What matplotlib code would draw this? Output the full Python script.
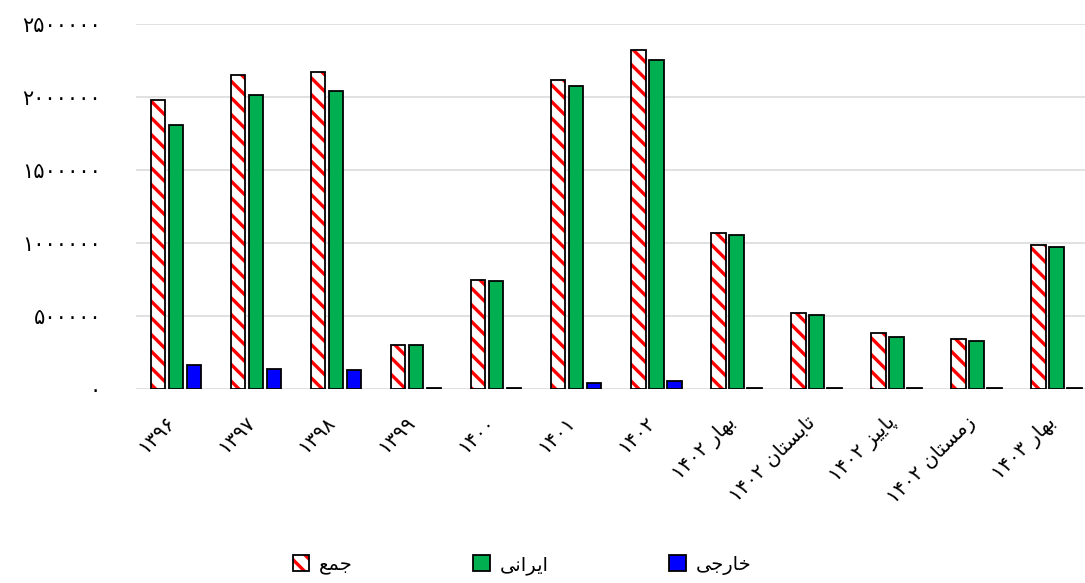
import matplotlib
matplotlib.use("Agg")
import matplotlib.pyplot as plt
from matplotlib.patches import Patch
from matplotlib.legend_handler import HandlerTuple
from matplotlib.ticker import FuncFormatter
import numpy as np

# periods, logical (RTL) order
periods = ["۱۳۹۶", "۱۳۹۷", "۱۳۹۸", "۱۳۹۹", "۱۴۰۰", "۱۴۰۱", "۱۴۰۲",
           "بهار ۱۴۰۲", "تابستان ۱۴۰۲", "پاییز ۱۴۰۲", "زمستان ۱۴۰۲", "بهار ۱۴۰۳"]
total = [1978000, 2155000, 2172000, 304000, 744000, 2117000, 2323000,
         1071000, 521000, 384000, 345000, 988000]
iranian = [1811000, 2017000, 2045000, 300000, 742000, 2076000, 2254000,
           1057000, 507000, 356000, 331000, 975000]
foreign = [161000, 134000, 132000, 5000, 5000, 43000, 57000,
           6000, 5000, 5000, 5000, 5000]
series_names = ["جمع", "ایرانی", "خارجی"]
yticks = [0, 500000, 1000000, 1500000, 2000000, 2500000]

# Arabic presentation forms: isolated, final, initial, medial
FORMS = {
    "ا": ("\uFE8D", "\uFE8E", None, None),
    "ب": ("\uFE8F", "\uFE90", "\uFE91", "\uFE92"),
    "پ": ("\uFB56", "\uFB57", "\uFB58", "\uFB59"),
    "ت": ("\uFE95", "\uFE96", "\uFE97", "\uFE98"),
    "ج": ("\uFE9D", "\uFE9E", "\uFE9F", "\uFEA0"),
    "خ": ("\uFEA5", "\uFEA6", "\uFEA7", "\uFEA8"),
    "ر": ("\uFEAD", "\uFEAE", None, None),
    "ز": ("\uFEAF", "\uFEB0", None, None),
    "س": ("\uFEB1", "\uFEB2", "\uFEB3", "\uFEB4"),
    "ع": ("\uFEC9", "\uFECA", "\uFECB", "\uFECC"),
    "م": ("\uFEE1", "\uFEE2", "\uFEE3", "\uFEE4"),
    "ن": ("\uFEE5", "\uFEE6", "\uFEE7", "\uFEE8"),
    "ه": ("\uFEE9", "\uFEEA", "\uFEEB", "\uFEEC"),
    "ی": ("\uFBFC", "\uFBFD", "\uFBFE", "\uFBFF"),
}


def shape_word(word):
    if word[0] not in FORMS:
        return word
    out = []
    for i, ch in enumerate(word):
        iso, fin, ini, med = FORMS[ch]
        prev = i > 0 and FORMS[word[i - 1]][2] is not None
        nxt = i < len(word) - 1 and ini is not None
        if prev and nxt:
            out.append(med)
        elif prev:
            out.append(fin)
        elif nxt:
            out.append(ini)
        else:
            out.append(iso)
    return "".join(reversed(out))


def visual(text):
    return " ".join(shape_word(w) for w in reversed(text.split()))


FA = str.maketrans("0123456789", "۰۱۲۳۴۵۶۷۸۹")

plt.rcParams["font.family"] = ["DejaVu Sans"]
plt.rcParams["hatch.linewidth"] = 2.4

fig = plt.figure(figsize=(10.85, 5.83), dpi=100)
ax = fig.add_axes([0.1253, 0.3328, 0.8854, 0.6255])

x = np.arange(len(periods))
w = 0.18
off = 0.225
ax.bar(x - off, total, w, color="white", edgecolor="#FF0000", hatch="\\\\",
       lw=0, zorder=3)
ax.bar(x - off, total, w, fill=False, edgecolor="black", lw=1.3, zorder=4)
ax.bar(x, iranian, w, color="#00B050", edgecolor="black", lw=1.3, zorder=3)
ax.bar(x + off, foreign, w, color="#0000FF", edgecolor="black", lw=1.3, zorder=3)

ax.set_xlim(-0.5, len(periods) - 0.5)
ax.set_ylim(0, 2500000)
ax.set_yticks(yticks)
ax.yaxis.set_major_formatter(FuncFormatter(lambda v, p: str(int(v)).translate(FA)))
ax.grid(axis="y", color="#D9D9D9", lw=1.1, zorder=0)
for s in ax.spines.values():
    s.set_visible(False)
ax.tick_params(axis="y", length=0, pad=25, labelsize=15)
ax.set_xticks(x - 0.05)
ax.set_xticklabels([visual(p) for p in periods], rotation=45, ha="right",
                   va="center", rotation_mode="anchor", fontsize=14.5)
ax.tick_params(axis="x", length=0, pad=22)

hatch_patch = Patch(facecolor="white", edgecolor="#FF0000", hatch="\\\\", lw=0)
box = Patch(fill=False, edgecolor="black", lw=1.3)
handles = [(hatch_patch, box),
           Patch(facecolor="#00B050", edgecolor="black", lw=1.3),
           Patch(facecolor="#0000FF", edgecolor="black", lw=1.3)]
fig.legend(handles, [visual(s) for s in series_names], ncol=3, frameon=False,
           loc="center", bbox_to_anchor=(0.481, 0.031), fontsize=14,
           handlelength=0.85, handleheight=0.85, handletextpad=0.5,
           columnspacing=6.2, handler_map={tuple: HandlerTuple(ndivide=1)})

fig.savefig("out.png", dpi=100)
